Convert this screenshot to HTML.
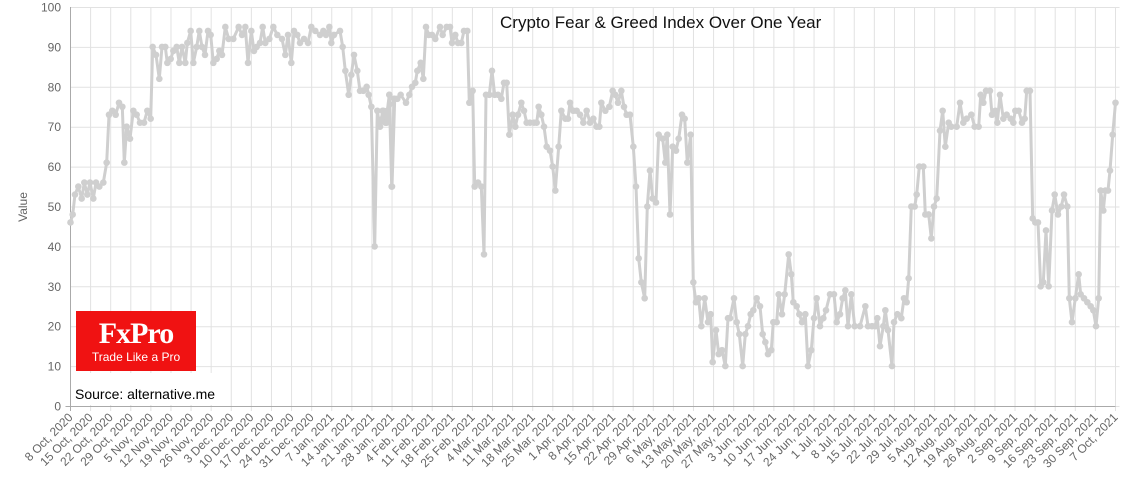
<!DOCTYPE html>
<html><head><meta charset="utf-8"><style>
html,body{margin:0;padding:0;background:#fff;}
svg{display:block;font-family:"Liberation Sans",sans-serif;}
</style></head><body>
<svg id="c" width="1136" height="480" xmlns="http://www.w3.org/2000/svg"></svg>
<script>
var s=document.getElementById('c'),NS='http://www.w3.org/2000/svg';
function el(t,a,txt){var e=document.createElementNS(NS,t);for(var k in a)e.setAttribute(k,a[k]);if(txt!==undefined)e.textContent=txt;s.appendChild(e);return e;}
var X0=70.5,X1=1115.5,Y0=406,Y1=7;
function Y(v){return Y0-(Y0-Y1)*v/100;}
// grid
for(var v=0;v<=100;v+=10){el('line',{x1:X0,x2:X1+4,y1:Y(v)+.5,y2:Y(v)+.5,stroke:'#e2e2e2','stroke-width':1});
el('text',{x:61,y:Y(v)+4.5,'text-anchor':'end','font-size':12,fill:'#666'},String(v));}
var labels=["8 Oct, 2020","15 Oct, 2020","22 Oct, 2020","29 Oct, 2020","5 Nov, 2020","12 Nov, 2020","19 Nov, 2020","26 Nov, 2020","3 Dec, 2020","10 Dec, 2020","17 Dec, 2020","24 Dec, 2020","31 Dec, 2020","7 Jan, 2021","14 Jan, 2021","21 Jan, 2021","28 Jan, 2021","4 Feb, 2021","11 Feb, 2021","18 Feb, 2021","25 Feb, 2021","4 Mar, 2021","11 Mar, 2021","18 Mar, 2021","25 Mar, 2021","1 Apr, 2021","8 Apr, 2021","15 Apr, 2021","22 Apr, 2021","29 Apr, 2021","6 May, 2021","13 May, 2021","20 May, 2021","27 May, 2021","3 Jun, 2021","10 Jun, 2021","17 Jun, 2021","24 Jun, 2021","1 Jul, 2021","8 Jul, 2021","15 Jul, 2021","22 Jul, 2021","29 Jul, 2021","5 Aug, 2021","12 Aug, 2021","19 Aug, 2021","26 Aug, 2021","2 Sep, 2021","9 Sep, 2021","16 Sep, 2021","23 Sep, 2021","30 Sep, 2021","7 Oct, 2021"];
var pd=(X1-X0)/364;
labels.forEach(function(l,i){var x=X0+i*7*pd;if(i==52)x=X1;
el('line',{x1:x,x2:x,y1:Y1,y2:Y0+5,stroke:'#e2e2e2','stroke-width':1});
el('text',{x:0,y:0,transform:'translate('+(x+3)+','+(Y0+12)+') rotate(-45)','text-anchor':'end','font-size':12,fill:'#666'},l);});
el('line',{x1:X0,x2:X0,y1:Y1,y2:Y0+5,stroke:'#aaa','stroke-width':1});
el('line',{x1:X0-5,x2:X1,y1:Y0+.5,y2:Y0+.5,stroke:'#aaa','stroke-width':1});
el('text',{x:0,y:0,transform:'translate(27,207) rotate(-90)','text-anchor':'middle','font-size':12,fill:'#666'},'Value');
el('text',{x:500,y:28,'font-size':17,fill:'#111'},'Crypto Fear & Greed Index Over One Year');
// data
var z1=[210,46,218,48,225,53,235,55,245,52,253,56,262,53,270,56,280,52,288,56,298,55,310,56,320,61,327,73,337,74,347,73,357,76,367,75,373,61,380,70,390,67,400,74,410,73,420,71,432,71,442,74,452,72,458,90,468,88,478,82,486,90,496,90,502,86,512,87,520,89,530,90,538,86,546,90,556,86,562,91,572,94,580,86,590,90,598,94,606,90,615,88,624,94,632,93,640,86,650,87,658,89,666,88,676,95,686,92,700,92,716,95,726,93,736,95,744,86,754,94,762,89,770,90,780,91,788,95,796,91,808,92,820,95,832,93,846,92,856,88,864,93,874,86,882,94,892,93,900,91,912,92,924,91,934,95,946,94,960,93,970,94,978,93,988,95,994,91,1002,93,1020,94,1028,90,1036,84,1046,78,1054,83,1062,88,1072,84,1080,79,1090,79,1100,80,1106,78,1114,75,1124,40,1132,74,1140,70,1148,74,1156,71,1162,74,1168,78,1176,55,1184,77];
var z2=[0,71,10,74,20,71,28,78,35,55,42,77,52,77,62,78,78,76,88,78,96,80,106,81,112,84,122,86,130,82,138,95,146,93,156,93,166,92,180,95,188,93,200,95,210,95,216,91,226,93,234,91,244,91,252,94,262,94,268,76,278,79,284,55,294,56,304,55,312,38,318,78,328,78,336,84,344,78,354,78,364,77,372,81,380,81,388,68,398,73,406,70,414,73,424,76,432,74,440,71,450,71,462,71,470,71,476,75,484,73,492,70,500,65,510,64,518,60,526,54,536,65,544,74,556,72,564,72,570,76,580,74,590,74,600,73,610,71,620,74,630,71,640,72,650,70,658,70,664,76,676,74,688,75,698,79,706,78,714,76,724,79,732,75,740,73,750,73,760,65,768,55,776,37,784,31,794,27,802,50,810,59,818,52,828,51,836,68,848,67,856,61,862,68,870,48,878,65,888,64,896,67,906,73,914,72,922,61,932,68,940,31,948,26,956,27,964,20,974,27,984,21,992,23,998,11,1008,19,1016,13,1026,14,1036,10,1044,22,1050,22,1062,27,1070,21,1078,18,1088,10,1096,18,1104,20,1112,23,1120,24,1130,27];
var z3=[0,25,8,18,16,16,24,13,34,14,40,21,50,21,56,28,66,23,74,28,86,38,94,33,100,26,110,25,118,23,126,21,136,23,144,10,154,14,162,22,170,27,180,20,190,22,198,24,210,28,222,28,230,21,240,23,248,27,256,29,264,20,274,28,284,20,300,20,316,25,324,20,336,20,346,20,352,22,360,15,370,20,376,24,384,19,396,10,402,21,412,23,424,22,432,27,440,26,446,32,454,50,464,50,470,53,478,60,490,60,496,48,506,48,514,42,522,50,530,52,540,69,548,74,556,65,566,71,574,70,590,70,600,76,610,71,620,72,634,73,644,70,656,70,662,78,670,76,678,79,690,79,696,73,706,74,712,71,720,78,730,72,740,73,752,72,760,71,766,74,776,74,786,71,794,72,800,79,810,79,818,47,826,46,834,46,842,30,850,31,858,44,866,30,876,49,884,53,894,48,904,50,912,53,922,50,928,27,936,21,946,27,956,33,962,28,972,27,982,26,992,25,1000,24,1008,20,1016,27,1022,54,1030,49,1036,54,1044,54,1050,59,1058,68,1066,76];
var pts=[];
function add(a,x0){for(var i=0;i<a.length;i+=2)pts.push([a[i]/3+x0,Y(a[i+1])]);}
add(z1,0);add(z2,380);add(z3,760);
pts[0][0]=X0;pts[pts.length-1][0]=X1;
el('polyline',{points:pts.map(function(p){return p[0].toFixed(1)+','+p[1].toFixed(1)}).join(' '),fill:'none',stroke:'#cfcfcf','stroke-width':3,'stroke-linejoin':'round'});
pts.forEach(function(p){el('circle',{cx:p[0],cy:p[1],r:3.3,fill:'#cfcfcf'});});
// logo
el('rect',{x:76,y:311,width:120,height:60,fill:'#f01212'});
el('text',{x:136,y:343,'text-anchor':'middle','font-size':30,'font-family':'Liberation Serif,serif','font-weight':'bold',fill:'#fff','letter-spacing':'-1'},'FxPro');
el('text',{x:136,y:361,'text-anchor':'middle','font-size':12,fill:'#fff'},'Trade Like a Pro');
el('rect',{x:72,y:373,width:150,height:32,fill:'#fff'});
el('text',{x:75,y:399,'font-size':14,fill:'#000'},'Source: alternative.me');
</script>
</body></html>
